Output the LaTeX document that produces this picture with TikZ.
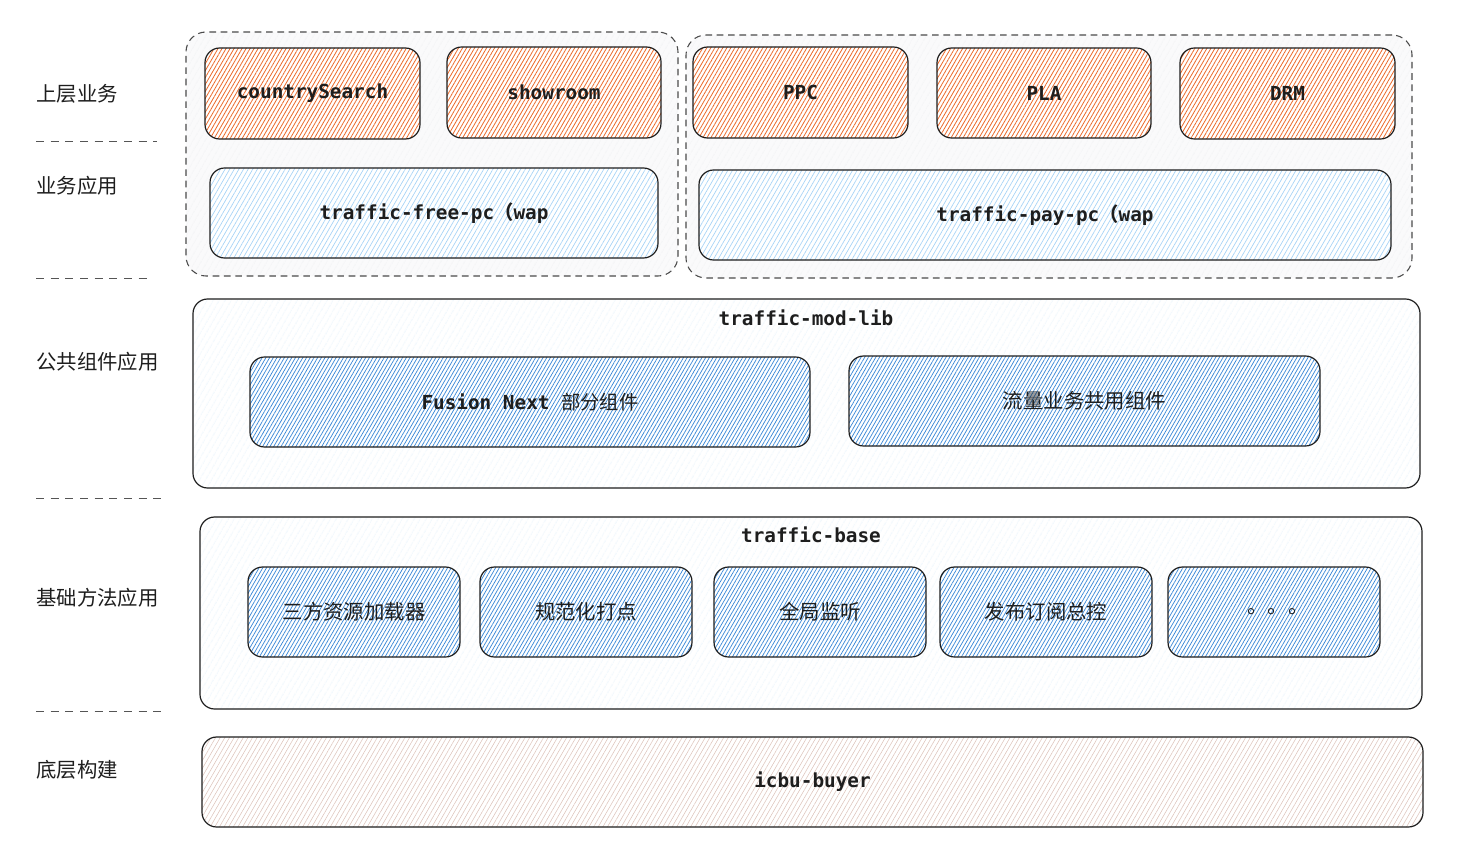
\documentclass[tikz,border=0pt]{standalone}
\usepackage{fontspec}
\setmonofont{DejaVu Sans Mono}
\newfontfamily\cjk{Noto Sans CJK SC}
\usetikzlibrary{patterns.meta}
\definecolor{ink}{HTML}{1E1E1E}
\definecolor{orH}{HTML}{EC6A2A}
\definecolor{ltbH}{HTML}{A5D3F7}
\definecolor{bH}{HTML}{3A88D8}
\definecolor{faintB}{HTML}{DDEEFB}
\definecolor{grpH}{HTML}{ECEEF0}
\definecolor{brH}{HTML}{DDC3BA}
\definecolor{sepC}{HTML}{555555}
\newcommand{\bx}[7]{\node[#2, minimum width={(#5-#3)*0.75pt}, minimum height={(#6-#4)*0.75pt}] (#1) at ({(#3+#5)/2},{(#4+#6)/2}) {#7};}
\tikzset{
  base/.style={draw=ink, line width=0.9pt, rounded corners=11pt, inner sep=0pt, text=ink,
    font=\ttfamily\bfseries\fontsize{14.5}{16}\selectfont},
  obox/.style={base, preaction={fill=white}, pattern={Lines[angle=60,distance=2.6pt,line width=0.6pt]}, pattern color=orH},
  lbbox/.style={base, preaction={fill=white}, pattern={Lines[angle=60,distance=3pt,line width=0.5pt]}, pattern color=ltbH},
  bbox/.style={base, preaction={fill=white}, pattern={Lines[angle=60,distance=2.4pt,line width=0.55pt]}, pattern color=bH},
  cbox/.style={base, preaction={fill=white}, pattern={Lines[angle=60,distance=4pt,line width=0.4pt]}, pattern color=faintB},
  brbox/.style={base, preaction={fill=white}, pattern={Lines[angle=60,distance=3pt,line width=0.4pt]}, pattern color=brH},
  grp/.style={draw=ink!80, line width=0.8pt, dash pattern=on 5pt off 3.5pt, rounded corners=15pt, inner sep=0pt,
    preaction={fill={rgb,255:red,250;green,250;blue,251}}, pattern={Lines[angle=60,distance=4pt,line width=0.4pt]}, pattern color=grpH},
  sidelbl/.style={anchor=west, inner sep=0pt, text=ink, font=\cjk\fontsize{15.3}{17}\selectfont},
  toplbl/.style={inner sep=0pt, text=ink, font=\ttfamily\bfseries\fontsize{14.5}{16}\selectfont},
  sep/.style={draw=sepC, line width=0.7pt, dash pattern=on 6pt off 5pt},
  zh/.style={font=\cjk\fontsize{15.3}{17}\selectfont}
}
\begin{document}
\begin{tikzpicture}[x=0.75pt, y=-0.75pt]
\useasboundingbox[fill=white] (0,0) rectangle (1469,863);
% side labels
\node[sidelbl] (l1) at (36,94) {上层业务};
\node[sidelbl] (l2) at (36,186) {业务应用};
\node[sidelbl] (l3) at (36,362) {公共组件应用};
\node[sidelbl] (l4) at (36,598) {基础方法应用};
\node[sidelbl] (l5) at (36,770) {底层构建};
% separators
\coordinate (s1a) at (36,141); \coordinate (s1b) at (157,141);
\coordinate (s2a) at (36,278); \coordinate (s2b) at (150,278);
\coordinate (s3a) at (36,498); \coordinate (s3b) at (164,498);
\coordinate (s4a) at (36,711); \coordinate (s4b) at (164,711);
\draw[sep] (s1a) -- (s1b);
\draw[sep] (s2a) -- (s2b);
\draw[sep] (s3a) -- (s3b);
\draw[sep] (s4a) -- (s4b);
% groups
\bx{gl}{grp}{186}{32}{678}{276}{}
\bx{gr}{grp}{686}{35}{1412}{278}{}
% top boxes
\bx{cs}{obox}{205}{48}{420}{139}{countrySearch}
\bx{sr}{obox}{447}{47}{661}{138}{showroom}
\bx{ppc}{obox}{693}{47}{908}{138}{PPC}
\bx{pla}{obox}{937}{48}{1151}{138}{PLA}
\bx{drm}{obox}{1180}{48}{1395}{139}{DRM}
\bx{tfp}{lbbox}{210}{168}{658}{258}{traffic-free-pc{\cjk （}wap}
\bx{tpp}{lbbox}{699}{170}{1391}{260}{traffic-pay-pc{\cjk （}wap}
% mod lib
\bx{modlib}{cbox}{193}{299}{1420}{488}{}
\node[toplbl] (modlibT) at (806,318) {traffic-mod-lib};
\bx{fus}{bbox}{250}{357}{810}{447}{Fusion Next {\cjk\mdseries 部分组件}}
\bx{shr}{bbox, zh}{849}{356}{1320}{446}{流量业务共用组件}
% base
\bx{tbase}{cbox}{200}{517}{1422}{709}{}
\node[toplbl] (tbaseT) at (811,535) {traffic-base};
\bx{b1}{bbox, zh}{248}{567}{460}{657}{三方资源加载器}
\bx{b2}{bbox, zh}{480}{567}{692}{657}{规范化打点}
\bx{b3}{bbox, zh}{714}{567}{926}{657}{全局监听}
\bx{b4}{bbox, zh}{940}{567}{1152}{657}{发布订阅总控}
\bx{b5}{bbox, zh}{1168}{567}{1380}{657}{\hspace*{6pt}。。。}
% bottom
\bx{icbu}{brbox}{202}{737}{1423}{827}{icbu-buyer}
\end{tikzpicture}
\end{document}
